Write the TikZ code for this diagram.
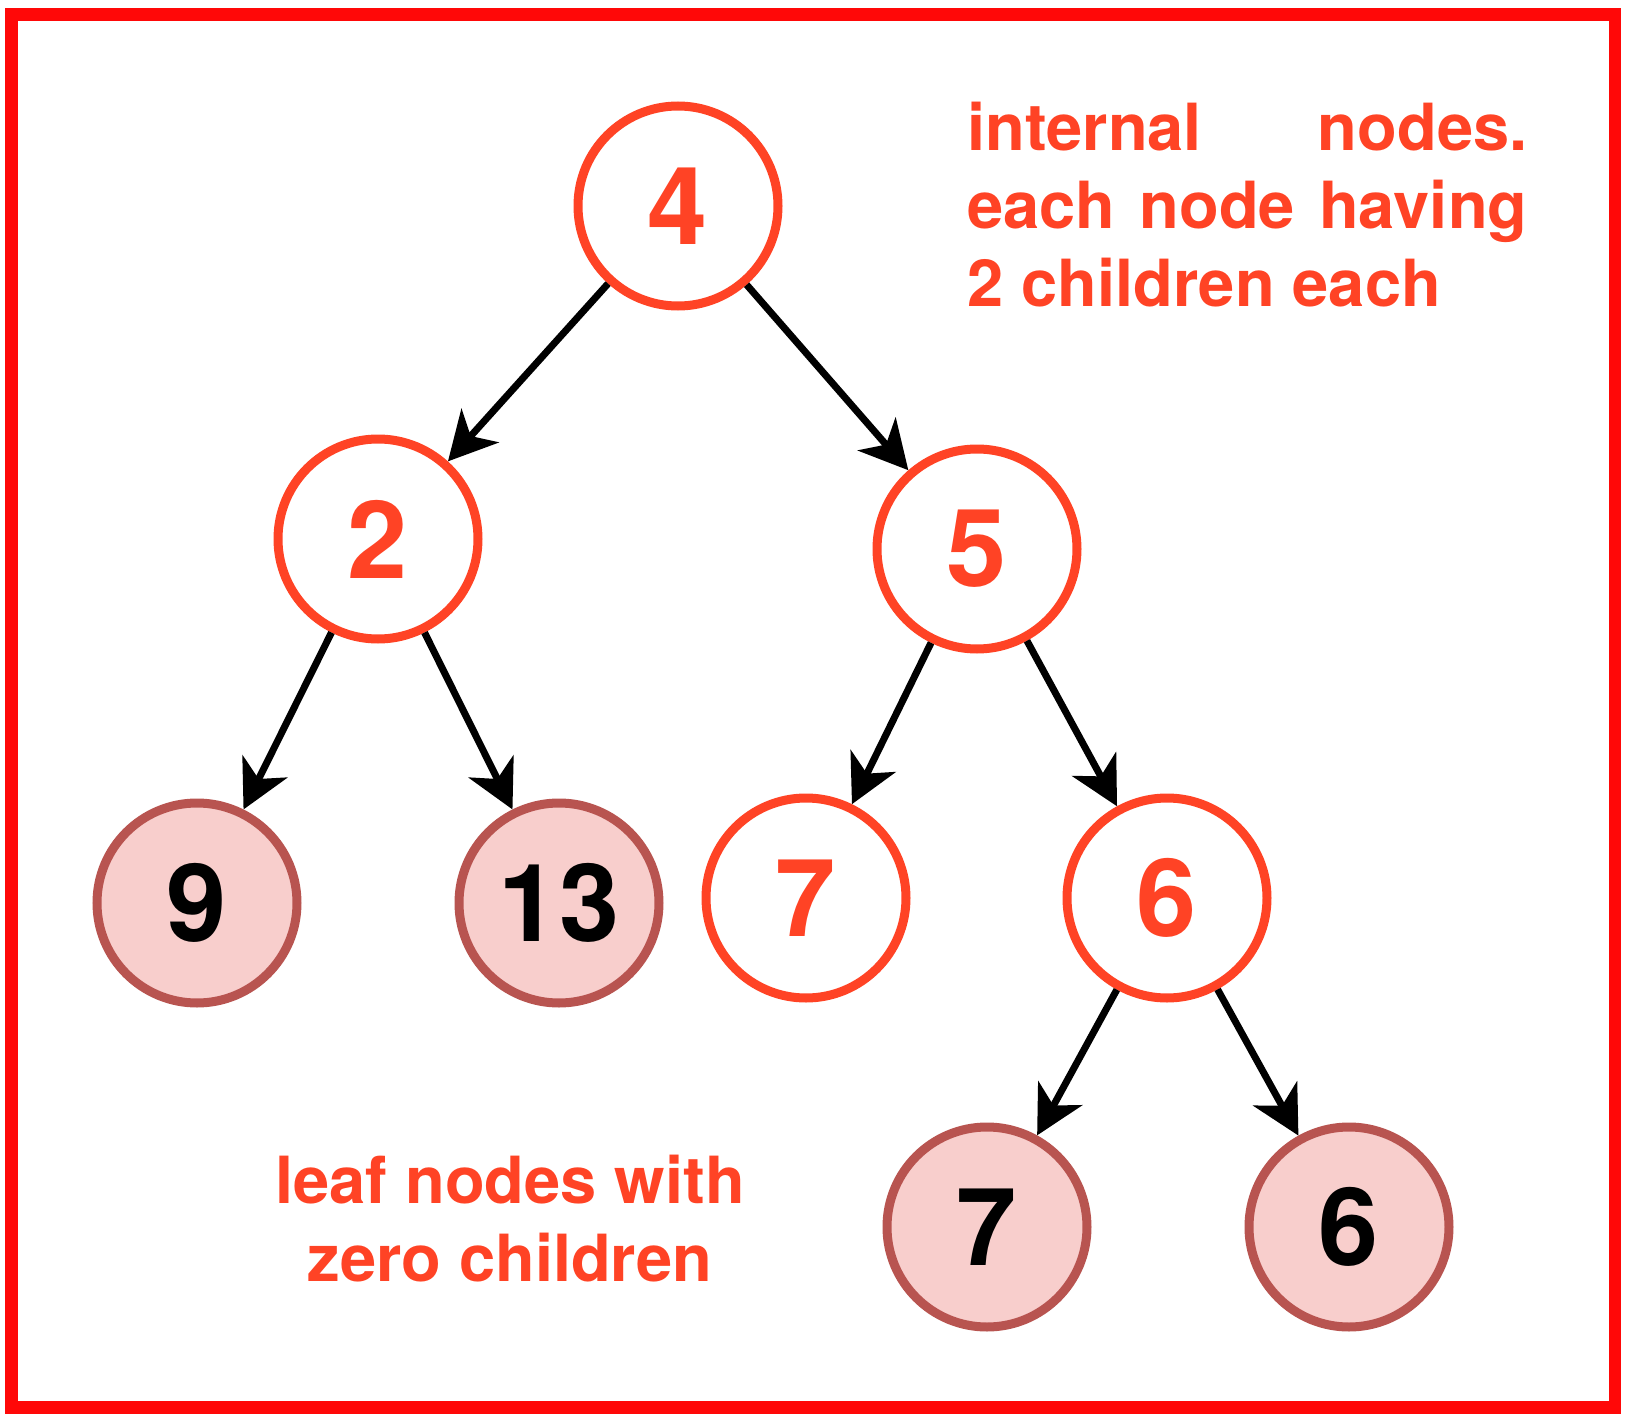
\documentclass[tikz,border=0pt]{standalone}
\usepackage{fontspec}
\setmainfont{TeX Gyre Heros}
\usetikzlibrary{arrows.meta}
\definecolor{nodered}{RGB}{255,67,37}
\definecolor{leaffill}{RGB}{248,206,204}
\definecolor{leafline}{RGB}{184,84,80}
\definecolor{framered}{RGB}{255,8,8}

\begin{document}
\begin{tikzpicture}[x=0.5pt,y=-0.5pt,
  inner/.style={circle,draw=nodered,fill=white,line width=4.5pt,minimum size=100pt,
    inner sep=0pt,text=nodered,font=\fontsize{54}{60}\selectfont\bfseries},
  leaf/.style={inner,draw=leafline,fill=leaffill,text=black},
  note/.style={inner sep=0pt,text=nodered,font=\fontsize{32.5}{39}\selectfont\bfseries},
  >={Stealth[length=24pt,width=25pt,inset=7pt]}]
\useasboundingbox (0,0) rectangle (1630,1424);
\draw[framered,line width=6.25pt] (11.5,14.5) rectangle (1615,1407.5);
% the tree
\node[inner] (v_4)  at (678,206)   {4};
\node[inner] (v_2)  at (378,539)   {2};
\node[inner] (v_5)  at (977,549)   {5};
\node[leaf]  (v_9)  at (197,903)   {9};
\node[leaf]  (v_13) at (559,903)   {13};
\node[inner] (v_7)  at (806,898)   {7};
\node[inner] (v_6)  at (1167,898)  {6};
\node[leaf]  (v_7b) at (987,1227)  {7};
\node[leaf]  (v_6b) at (1349,1227) {6};
\path[->,line width=3.5pt]
  (v_4) edge (v_2)
        edge (v_5)
  (v_2) edge (v_9)
        edge (v_13)
  (v_5) edge (v_7)
        edge (v_6)
  (v_6) edge (v_7b)
        edge (v_6b);
% notes
\node[note,anchor=north west,align=left] (internal) at (967,102)
  {\makebox[280pt][s]{internal nodes.}\\
   \makebox[280pt][s]{each node having}\\
   2 children each};
\node[note,anchor=north,align=center] (leaves) at (510,1155)
  {leaf nodes with\\ zero children};
\end{tikzpicture}
\end{document}
